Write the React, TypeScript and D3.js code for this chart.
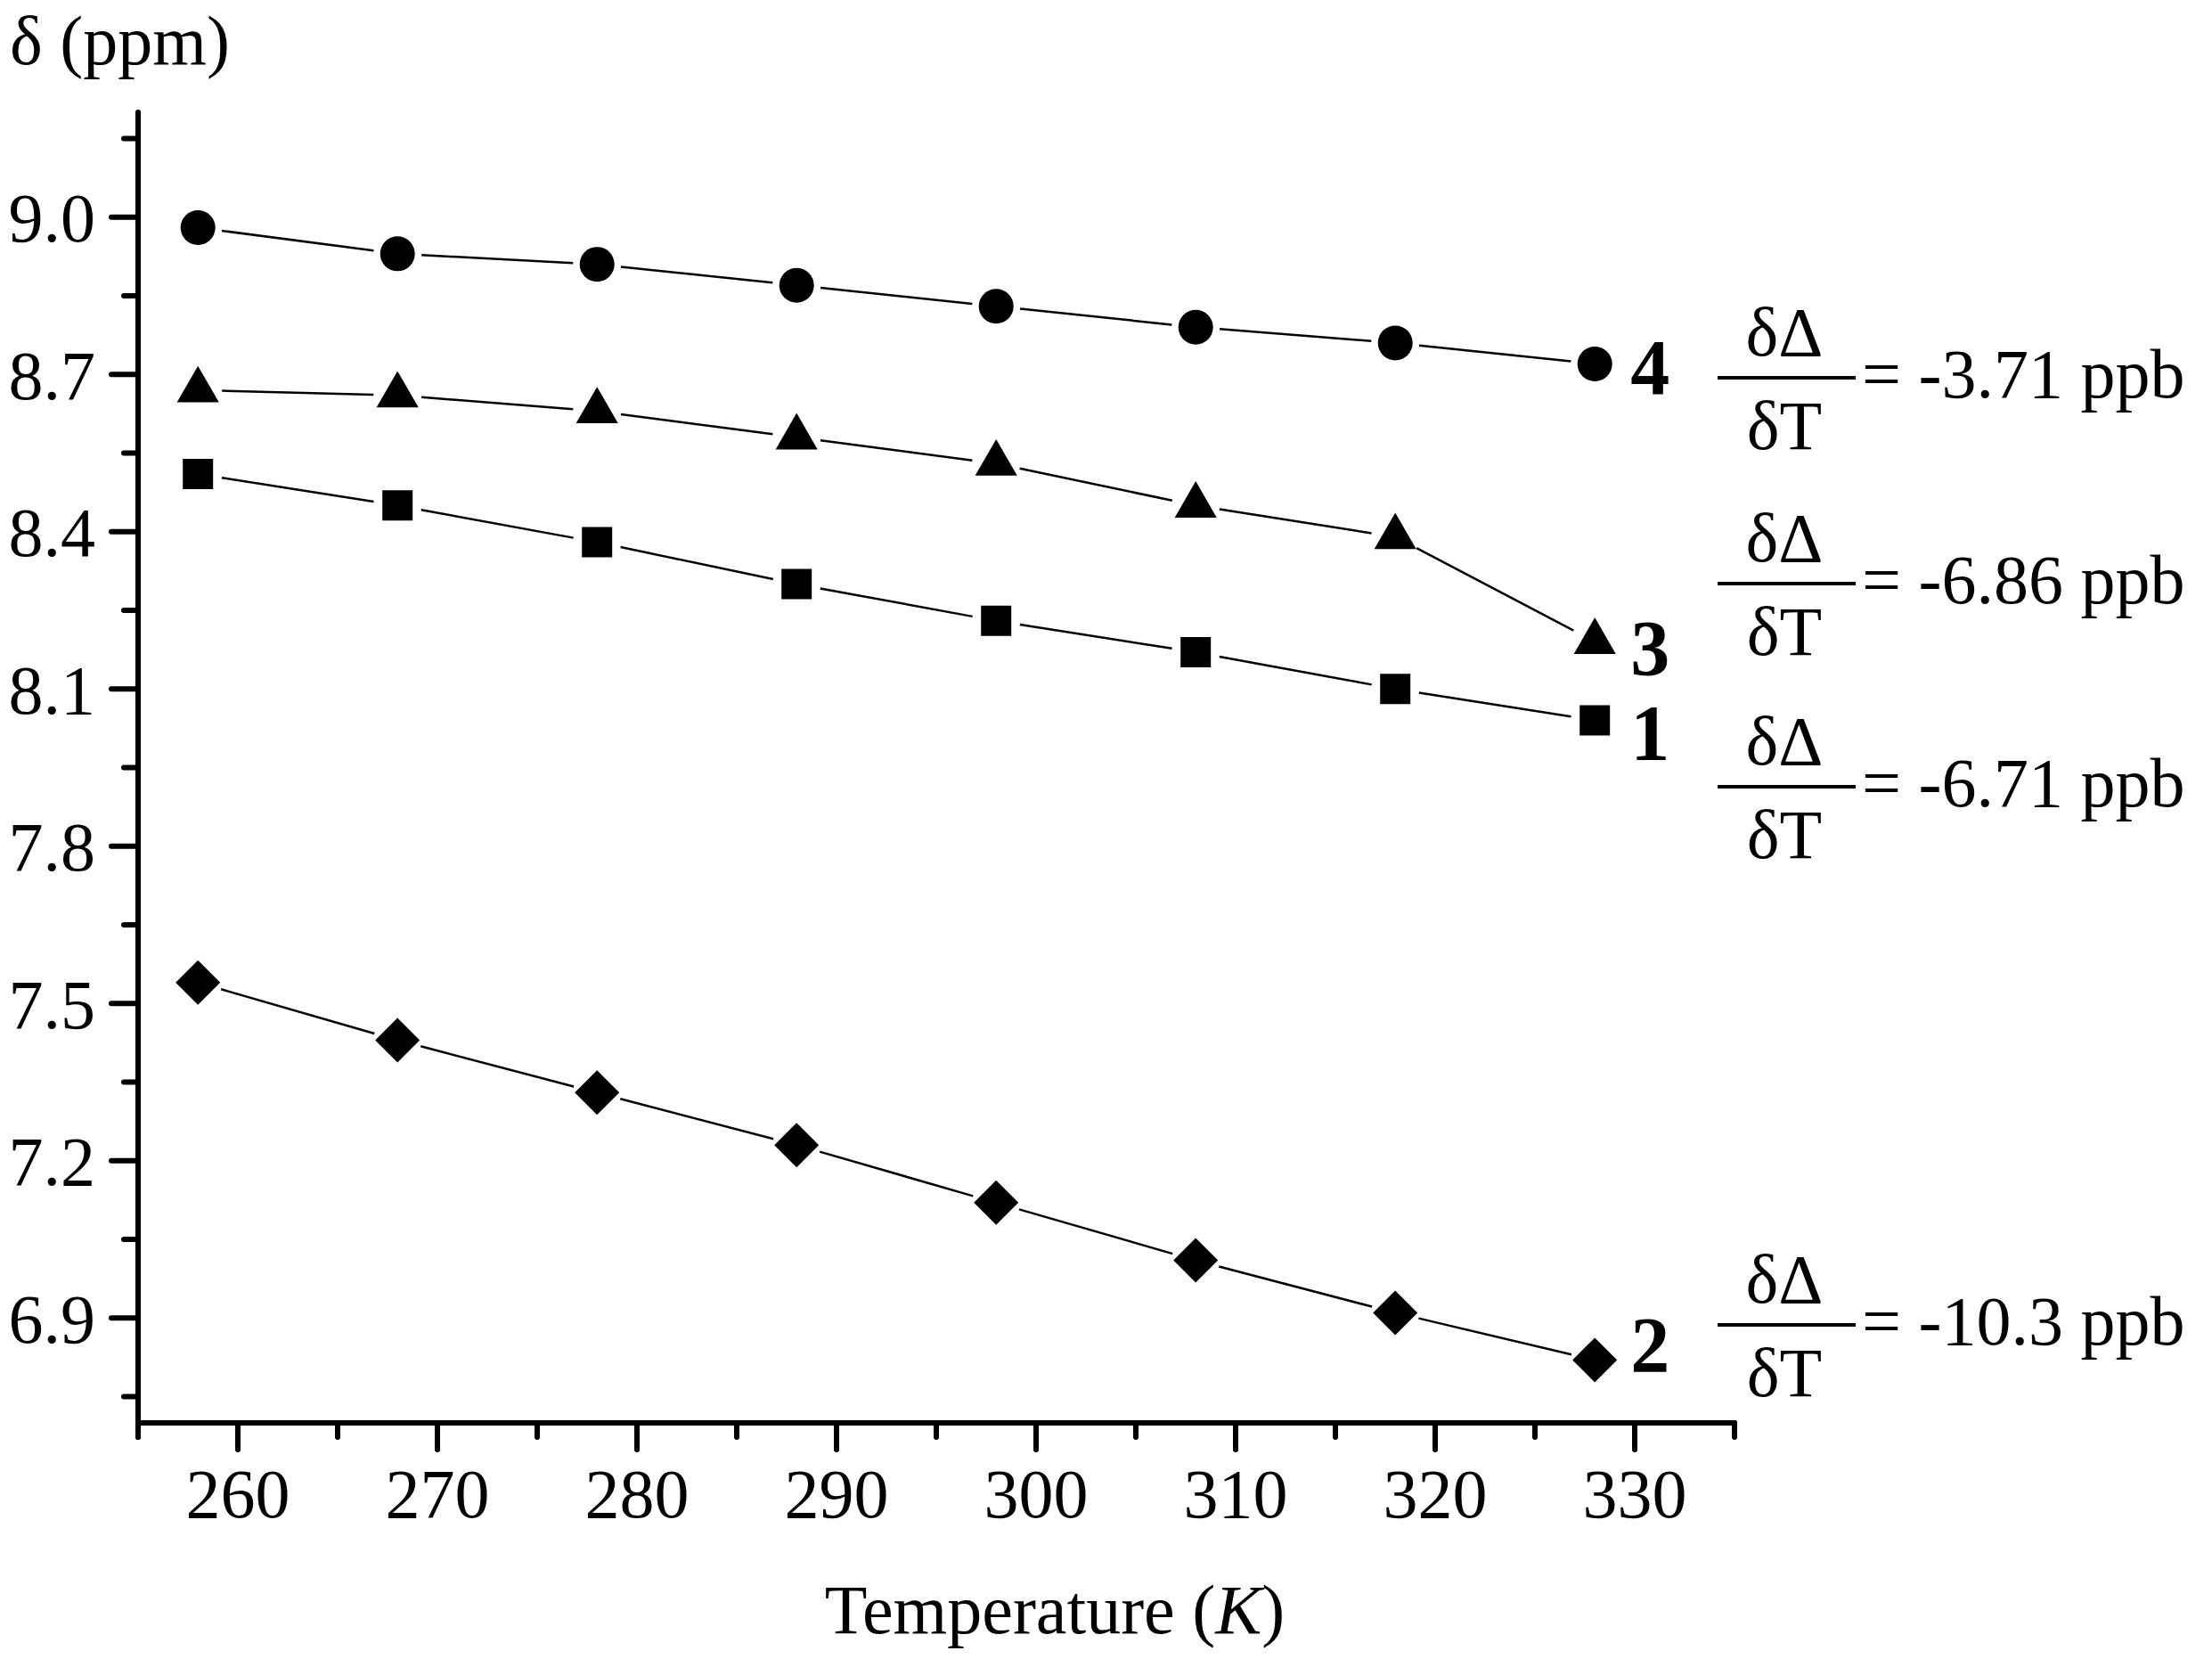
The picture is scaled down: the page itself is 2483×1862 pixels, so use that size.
import * as d3 from 'd3';

// temperatures (K) and chemical shifts (ppm)
const temperatures = [258, 268, 278, 288, 298, 308, 318, 328];
const shift1 = [8.51, 8.45, 8.38, 8.30, 8.23, 8.17, 8.10, 8.04];
const shift2 = [7.54, 7.43, 7.33, 7.23, 7.12, 7.01, 6.91, 6.82];
const shift3 = [8.67, 8.66, 8.63, 8.58, 8.53, 8.45, 8.39, 8.19];
const shift4 = [8.98, 8.93, 8.91, 8.87, 8.83, 8.79, 8.76, 8.72];
const seriesNames = ['1', '2', '3', '4'];
const slopeTexts = ['-6.71', '-10.3', '-6.86', '-3.71'];

const xMajorTicks = [260, 270, 280, 290, 300, 310, 320, 330];
const xMinorTicks = [255, 265, 275, 285, 295, 305, 315, 325, 335];
const yMajorTicks = [6.9, 7.2, 7.5, 7.8, 8.1, 8.4, 8.7, 9.0];
const yMinorTicks = [6.75, 7.05, 7.35, 7.65, 7.95, 8.25, 8.55, 8.85, 9.15];

const W = 2483;
const H = 1862;
const FONT = '"Liberation Serif", "Times New Roman", serif';

const x = d3.scaleLinear().domain([255, 335]).range([155, 1947]);
const y = d3.scaleLinear().domain([6.7, 9.2]).range([1597, 126]);

const symbols = [
  d3.symbol(d3.symbolSquare, 1156)(),
  d3.symbol(d3.symbolSquare, 1250)(), // rotated -> diamond
  d3.symbol(d3.symbolTriangle, 961)(),
  d3.symbol(d3.symbolCircle, 1195)(),
];
const rotations = [0, 45, 0, 0];

// label baseline offset from last point, fraction bar y
const labelDy = [43, 13, 37, 34];
const fractionY = [883, 1487, 655, 424];

const GAP = 27;

function segments(vals: number[]) {
  const pts = temperatures.map((t, i) => [x(t), y(vals[i])]);
  const out: string[] = [];
  for (let i = 0; i < pts.length - 1; i++) {
    const [x0, y0] = pts[i];
    const [x1, y1] = pts[i + 1];
    const len = Math.hypot(x1 - x0, y1 - y0);
    const ux = (x1 - x0) / len;
    const uy = (y1 - y0) / len;
    out.push(`M${x0 + ux * GAP},${y0 + uy * GAP}L${x1 - ux * GAP},${y1 - uy * GAP}`);
  }
  return out.join('');
}

export default function App() {
  const all = [shift1, shift2, shift3, shift4];
  const axisY = y.range()[0];
  const axisX = x.range()[0];
  return (
    <svg width={W} height={H} viewBox={`0 0 ${W} ${H}`}
      style={{ position: 'absolute', left: 0, top: 0, background: '#fff' }}
      fontFamily={FONT}>
      <rect width={W} height={H} fill="#fff" />

      {/* y axis */}
      <line x1={axisX} x2={axisX} y1={y.range()[1]} y2={axisY + 16} stroke="#000" strokeWidth={6} strokeLinecap="round" />
      {yMajorTicks.map(v => (
        <g key={`ym${v}`}>
          <line x1={axisX - 30} x2={axisX} y1={y(v)} y2={y(v)} stroke="#000" strokeWidth={6} strokeLinecap="round" />
          <text x={axisX - 48} y={y(v)} dy="0.35em" textAnchor="end" fontSize={78}>{v.toFixed(1)}</text>
        </g>
      ))}
      {yMinorTicks.map(v => (
        <line key={`yn${v}`} x1={axisX - 16} x2={axisX} y1={y(v)} y2={y(v)} stroke="#000" strokeWidth={6} strokeLinecap="round" />
      ))}

      {/* x axis */}
      <line x1={axisX} x2={x.range()[1]} y1={axisY} y2={axisY} stroke="#000" strokeWidth={6} strokeLinecap="round" />
      {xMajorTicks.map(v => (
        <g key={`xm${v}`}>
          <line x1={x(v)} x2={x(v)} y1={axisY} y2={axisY + 30} stroke="#000" strokeWidth={6} strokeLinecap="round" />
          <text x={x(v)} y={1703} textAnchor="middle" fontSize={78}>{v}</text>
        </g>
      ))}
      {xMinorTicks.map(v => (
        <line key={`xn${v}`} x1={x(v)} x2={x(v)} y1={axisY} y2={axisY + 16} stroke="#000" strokeWidth={6} strokeLinecap="round" />
      ))}

      {/* axis titles */}
      <text x={11} y={72} fontSize={78}>δ (ppm)</text>
      <text x={1184} y={1833} textAnchor="middle" fontSize={78}>
        Temperature (<tspan fontStyle="italic">K</tspan>)
      </text>

      {/* series */}
      {all.map((vals, s) => (
        <g key={`s${s}`}>
          <path d={segments(vals)} fill="none" stroke="#000" strokeWidth={2.5} />
          {vals.map((v, i) => (
            <path key={i} d={symbols[s] ?? ''} fill="#000"
              transform={`translate(${x(temperatures[i])},${y(v)}) rotate(${rotations[s]})`} />
          ))}
          <text x={x(temperatures[7]) + 62} y={y(vals[7]) + labelDy[s]} textAnchor="middle"
            fontSize={88} fontWeight="bold">{seriesNames[s]}</text>
        </g>
      ))}

      {/* slopes */}
      {slopeTexts.map((t, s) => (
        <g key={`f${s}`} fontSize={78}>
          <text x={2003} y={fractionY[s] - 25} textAnchor="middle">δΔ</text>
          <line x1={1928} x2={2083} y1={fractionY[s]} y2={fractionY[s]} stroke="#000" strokeWidth={4} />
          <text x={2003} y={fractionY[s] + 80} textAnchor="middle">δT</text>
          <text x={2090} y={fractionY[s] + 22}>= {t} ppb</text>
        </g>
      ))}
    </svg>
  );
}
